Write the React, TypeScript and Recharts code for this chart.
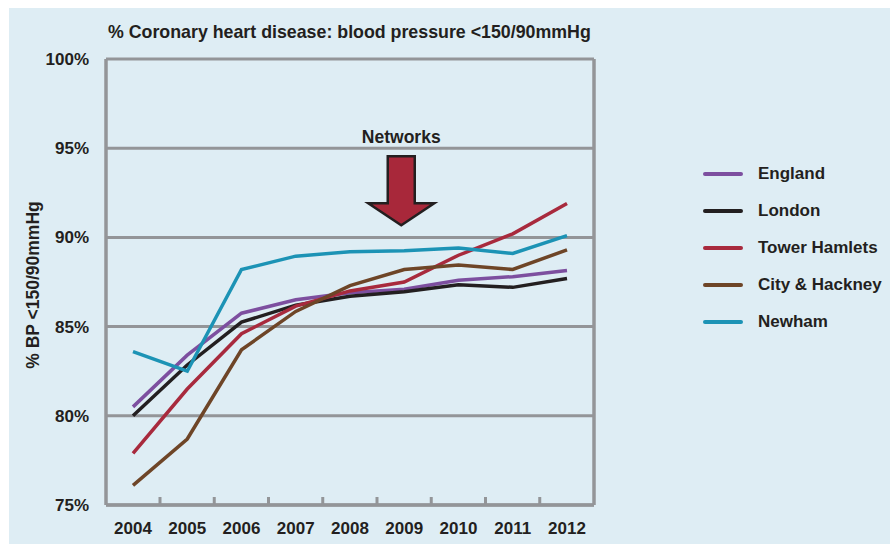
import React from 'react';
import { LineChart, Line, XAxis, YAxis, CartesianGrid, Legend, ReferenceDot } from 'recharts';

const years = ['2004', '2005', '2006', '2007', '2008', '2009', '2010', '2011', '2012'];
const england = [80.5, 83.4, 85.75, 86.5, 86.9, 87.1, 87.6, 87.8, 88.15];
const london = [80.0, 82.85, 85.25, 86.2, 86.7, 86.95, 87.35, 87.2, 87.7];
const towerHamlets = [77.9, 81.5, 84.6, 86.15, 87.0, 87.5, 89.0, 90.2, 91.9];
const cityHackney = [76.1, 78.7, 83.7, 85.85, 87.3, 88.2, 88.45, 88.2, 89.3];
const newham = [83.6, 82.5, 88.2, 88.95, 89.2, 89.25, 89.4, 89.1, 90.1];
const yTicks = [75, 80, 85, 90, 95, 100];

const seriesNames = ['England', 'London', 'Tower Hamlets', 'City & Hackney', 'Newham'];
const seriesValues = [england, london, towerHamlets, cityHackney, newham];
const seriesColors = ['#7d4f9f', '#231f20', '#a82a3d', '#6e4527', '#1c93b5'];

const data = years.map((y, i) => {
  const row: Record<string, string | number> = { year: y };
  seriesNames.forEach((n, k) => {
    row[n] = seriesValues[k][i];
  });
  return row;
});

const GRAY = '#939598';
const TEXT = '#231f20';
const FONT = '"Liberation Sans", Arial, sans-serif';

const XTick = (props: any) => {
  const { x, y, payload, index } = props;
  const axisY = y - 17;
  return (
    <g>
      {index < years.length - 1 && (
        <line x1={x + 27} x2={x + 27} y1={axisY} y2={axisY - 8} stroke={GRAY} strokeWidth={3} />
      )}
      <text x={x} y={y} dy="0.71em" textAnchor="middle" fill={TEXT} fontSize={17} fontWeight={700} fontFamily={FONT}>
        {payload.value}
      </text>
    </g>
  );
};

const ArrowShape = (props: any) => {
  const { cx, cy } = props;
  const ax = cx - 3;
  const sw = 13.5;
  const hw = 33;
  const d = `M${ax - sw},${cy + 8} L${ax + sw},${cy + 8} L${ax + sw},${cy + 55} L${ax + hw},${cy + 55} L${ax},${cy + 77} L${ax - hw},${cy + 55} L${ax - sw},${cy + 55} Z`;
  return (
    <g>
      <text x={ax} y={cy - 5} textAnchor="middle" fill={TEXT} fontSize={17.5} fontWeight={700} fontFamily={FONT}>
        Networks
      </text>
      <path d={d} fill="#a8283a" stroke={TEXT} strokeWidth={2.5} strokeLinejoin="miter" />
    </g>
  );
};

const LegendContent = () => (
  <div style={{ fontFamily: FONT }}>
    {seriesNames.map((n, i) => (
      <div key={n} style={{ display: 'flex', alignItems: 'center', height: 37 }}>
        <div style={{ width: 40, height: 4, borderRadius: 2, background: seriesColors[i], marginRight: 15 }} />
        <span style={{ fontSize: 17, fontWeight: 700, color: TEXT, whiteSpace: 'nowrap' }}>{n}</span>
      </div>
    ))}
  </div>
);

export default function App() {
  return (
    <div style={{ position: 'fixed', left: 0, top: 0, width: 890, height: 544, background: '#ffffff', overflow: 'hidden' }}>
      <div style={{ position: 'absolute', left: 9, top: 8, width: 881, height: 536, background: '#deedf4' }}>
        <LineChart width={881} height={536} data={data} margin={{ top: 51, right: 295, bottom: 9, left: 37 }}>
          <CartesianGrid xAxisId="bottom" yAxisId="left" vertical={false} stroke={GRAY} strokeWidth={3} strokeDasharray="0" />
          <XAxis
            dataKey="year"
            xAxisId="bottom"
            height={30}
            padding={{ left: 27, right: 27 }}
            axisLine={{ stroke: GRAY, strokeWidth: 3.5 }}
            tickLine={false}
            tickSize={0}
            tickMargin={17}
            tick={<XTick />}
            interval={0}
          />
          <XAxis
            dataKey="year"
            xAxisId="top"
            orientation="top"
            height={0}
            padding={{ left: 27, right: 27 }}
            axisLine={{ stroke: GRAY, strokeWidth: 3.5 }}
            tickLine={false}
            tick={false}
          />
          <YAxis
            yAxisId="left"
            domain={[75, 100]}
            ticks={yTicks}
            width={60}
            axisLine={{ stroke: GRAY, strokeWidth: 3.5 }}
            tickLine={false}
            tickSize={0}
            tickMargin={17}
            tickFormatter={(v: number) => `${v}%`}
            tick={{ fill: TEXT, fontSize: 17, fontWeight: 700, fontFamily: FONT }}
            interval={0}
          />
          <YAxis
            yAxisId="right"
            orientation="right"
            domain={[75, 100]}
            ticks={yTicks}
            width={1}
            axisLine={{ stroke: GRAY, strokeWidth: 3.5 }}
            tickLine={false}
            tick={false}
          />
          {seriesNames.map((n, i) => (
            <Line
              key={n}
              xAxisId="bottom"
              yAxisId="left"
              type="linear"
              dataKey={n}
              stroke={seriesColors[i]}
              strokeWidth={3.5}
              dot={false}
              activeDot={false}
              isAnimationActive={false}
            />
          ))}
          <ReferenceDot xAxisId="bottom" yAxisId="left" x="2009" y={95} r={0} shape={<ArrowShape />} />
          <Legend
            layout="vertical"
            align="center"
            verticalAlign="middle"
            content={<LegendContent />}
            wrapperStyle={{ position: 'absolute', left: 694, top: 147, width: 190, height: 190 }}
          />
        </LineChart>
      </div>
      <div
        style={{
          position: 'absolute',
          left: 108,
          top: 21,
          lineHeight: '22px',
          fontFamily: FONT,
          fontSize: 17.8,
          fontWeight: 700,
          color: TEXT,
          whiteSpace: 'nowrap',
        }}
      >
        % Coronary heart disease: blood pressure &lt;150/90mmHg
      </div>
      <div
        style={{
          position: 'absolute',
          left: 33 - 110,
          top: 285 - 11,
          width: 220,
          height: 22,
          lineHeight: '22px',
          textAlign: 'center',
          transform: 'rotate(-90deg)',
          fontFamily: FONT,
          fontSize: 17.5,
          fontWeight: 700,
          color: TEXT,
          whiteSpace: 'nowrap',
        }}
      >
        % BP &lt;150/90mmHg
      </div>
    </div>
  );
}
